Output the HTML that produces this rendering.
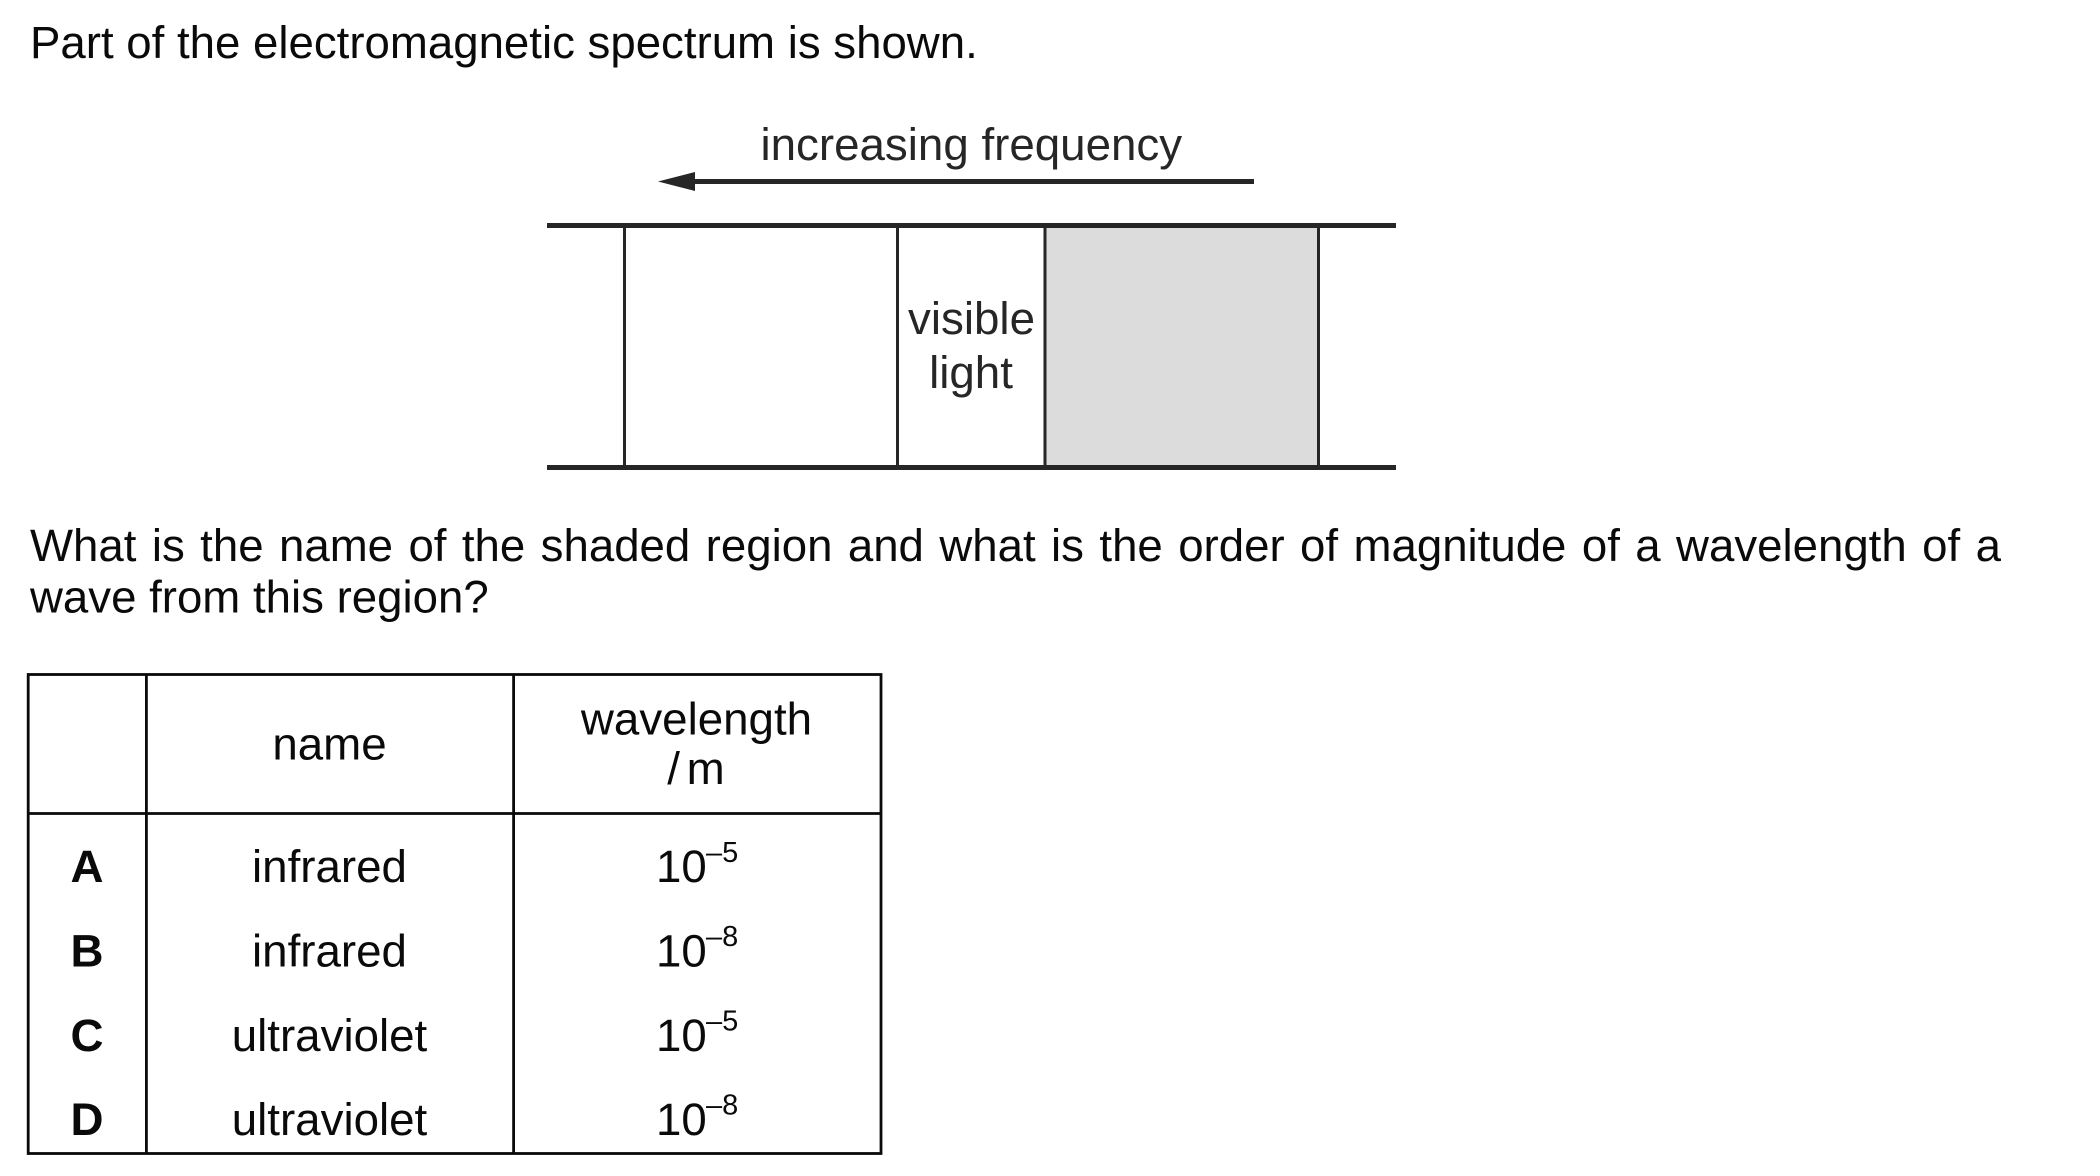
<!DOCTYPE html>
<html lang="en">
<head>
<meta charset="utf-8">
<title>Electromagnetic spectrum question</title>
<style>
  html, body { margin: 0; padding: 0; background: #ffffff; }
  body { width: 2100px; height: 1176px; overflow: hidden; }
  svg { display: block; font-family: "Liberation Sans", Arial, sans-serif; }
  .q { font-size: 45.6px; fill: #0a0a0a; }
  .d { font-size: 45.7px; fill: #262626; }
  .t { font-size: 45.7px; fill: #0a0a0a; text-anchor: middle; }
  .b { font-size: 45.7px; fill: #0a0a0a; text-anchor: middle; font-weight: bold; }
  .s { font-size: 29px; fill: #0a0a0a; }
</style>
</head>
<body>
<svg width="2100" height="1176" viewBox="0 0 2100 1176" xmlns="http://www.w3.org/2000/svg">
  <rect width="2100" height="1176" fill="#ffffff"/>

  <text class="q" x="30" y="58">Part of the electromagnetic spectrum is shown.</text>

  <g>
    <text class="d" x="760.5" y="160">increasing frequency</text>
    <rect x="690" y="179" width="564" height="5" fill="#262626"/>
    <polygon points="658,181.5 695,172 695,191" fill="#262626"/>

    <rect x="1045" y="226" width="273.5" height="241" fill="#dcdcdc"/>
    <rect x="547" y="223" width="849" height="5" fill="#262626"/>
    <rect x="547" y="465" width="849" height="5" fill="#262626"/>
    <rect x="623" y="226" width="3" height="241" fill="#262626"/>
    <rect x="896" y="226" width="3" height="241" fill="#262626"/>
    <rect x="1043.5" y="226" width="3" height="241" fill="#262626"/>
    <rect x="1317" y="226" width="3" height="241" fill="#262626"/>

    <text class="d" x="971.5" y="334" text-anchor="middle">visible</text>
    <text class="d" x="971" y="388" text-anchor="middle">light</text>
  </g>

  <text class="q" x="30" y="561" word-spacing="2.75">What is the name of the shaded region and what is the order of magnitude of a wavelength of a</text>
  <text class="q" x="30" y="612.5">wave from this region?</text>

  <g>
    <rect x="28.2" y="674.5" width="852.8" height="479" fill="none" stroke="#0a0a0a" stroke-width="2.8"/>
    <line x1="146.4" y1="674" x2="146.4" y2="1154" stroke="#0a0a0a" stroke-width="2.8"/>
    <line x1="513.6" y1="674" x2="513.6" y2="1154" stroke="#0a0a0a" stroke-width="2.8"/>
    <line x1="28" y1="813.5" x2="881" y2="813.5" stroke="#0a0a0a" stroke-width="2.8"/>

    <text class="t" x="329.5" y="759.5">name</text>
    <text class="t" x="696.5" y="734.5">wavelength</text>
    <text class="t" x="696" y="784" word-spacing="-6">/ m</text>

    <g>
      <text class="b" x="87" y="882">A</text>
      <text class="t" x="329.5" y="882">infrared</text>
      <text class="q" x="656" y="882">10</text>
      <text class="s" x="706" y="862">–5</text>
    </g>
    <g>
      <text class="b" x="87" y="966.5">B</text>
      <text class="t" x="329.5" y="966.5">infrared</text>
      <text class="q" x="656" y="966.5">10</text>
      <text class="s" x="706" y="946">–8</text>
    </g>
    <g>
      <text class="b" x="87" y="1051">C</text>
      <text class="t" x="329.5" y="1051">ultraviolet</text>
      <text class="q" x="656" y="1051">10</text>
      <text class="s" x="706" y="1030.5">–5</text>
    </g>
    <g>
      <text class="b" x="87" y="1135">D</text>
      <text class="t" x="329.5" y="1135">ultraviolet</text>
      <text class="q" x="656" y="1135">10</text>
      <text class="s" x="706" y="1114.5">–8</text>
    </g>
  </g>
</svg>
</body>
</html>
